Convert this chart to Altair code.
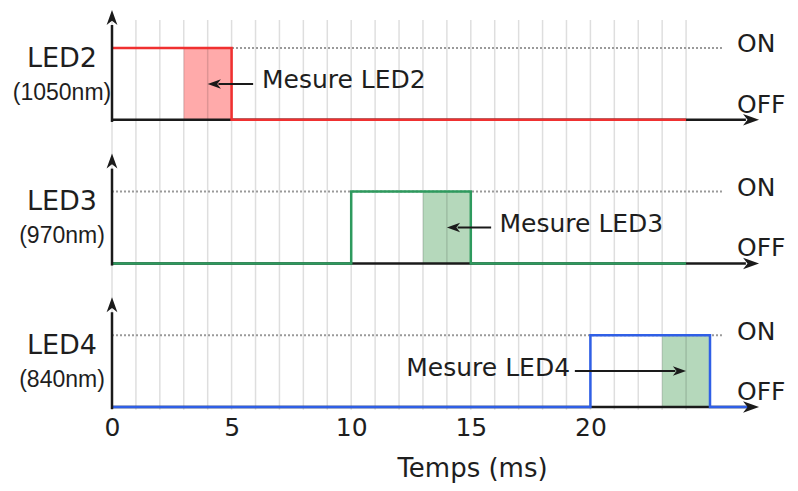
import altair as alt
import pandas as pd

# ---------------- data ----------------
leds = ["LED2", "LED3", "LED4"]
wavelengths = ["(1050nm)", "(970nm)", "(840nm)"]
pulse_start = [0, 10, 20]
pulse_end = [5, 15, 25]
measure_start = [3, 13, 23]
measure_end = [5, 15, 25]
trace_end = [24, 24, 26.6]
measure_labels = ["Mesure LED2", "Mesure LED3", "Mesure LED4"]
tick_values = [0, 5, 10, 15, 20]
grid_times = list(range(0, 25))
state_labels = ["ON", "OFF"]

# ---------------- styles / annotation layout ----------------
line_colors = ["#f03030", "#2e9a5e", "#2f5fe6"]
fill_colors = ["#ffaaaa", "#b5d8bb", "#b5d8bb"]
arrow_tail = [5.9, 15.85, 19.35]
label_x = [6.27, 16.2, 19.15]
label_align = ["left", "left", "right"]
panel_off = [4, 2, 0]          # OFF level of each panel (ON = OFF + 1)
FONT = "DejaVu Sans"
TXT = "#1e1e1e"
ARROW_PATH = "M0,0 L-0.36,1 L0,0.72 L0.36,1 Z"

# ---------------- build tables ----------------
sig_rows, rect_rows, grid_rows, on_rows, ax_h, ax_v = [], [], [], [], [], []
heads, marrows, led_txt, nm_txt, on_txt, off_txt, m_txt = [], [], [], [], [], [], []
for i, led in enumerate(leds):
    off = panel_off[i]
    on = off + 1
    pts = []
    if pulse_start[i] > 0:
        pts += [(0, off), (pulse_start[i], off)]
    pts += [(pulse_start[i], on), (pulse_end[i], on), (pulse_end[i], off), (trace_end[i], off)]
    for k, (t, y) in enumerate(pts):
        sig_rows.append({"led": led, "k": k, "t": t, "y": y})
    rect_rows.append({"t": measure_start[i], "t2": measure_end[i], "y": off, "y2": on,
                      "fill": fill_colors[i]})
    on_rows.append({"t": 0, "t2": 25.5, "y": on})
    ax_h.append({"t": 0, "t2": 26.5, "y": off})
    ax_v.append({"t": 0, "y": off - 0.03, "y2": off + 1.32})
    heads.append({"t": 27.05, "y": off, "angle": 90, "size": 1024})
    heads.append({"t": 0, "y": off + 1.53, "angle": 0, "size": 900})
    tip = (measure_start[i] + measure_end[i]) / 2
    mid = off + 0.5
    marrows.append({"t": arrow_tail[i], "t2": tip + (0.45 if tip < arrow_tail[i] else -0.45), "y": mid})
    heads.append({"t": tip, "y": mid, "angle": 270 if tip < arrow_tail[i] else 90, "size": 700})
    led_txt.append({"t": -2.09, "y": on - 0.15, "txt": led})
    nm_txt.append({"t": -2.09, "y": on - 0.62, "txt": wavelengths[i]})
    on_txt.append({"t": 26.13, "y": on + 0.05, "txt": state_labels[0]})
    off_txt.append({"t": 26.13, "y": off + 0.21, "txt": state_labels[1]})
    m_txt.append({"t": label_x[i], "y": mid + 0.05, "txt": measure_labels[i], "align": label_align[i]})
for t in grid_times:
    grid_rows.append({"t": t, "y": -0.04, "y2": 5.39})

xscale = alt.Scale(domain=[0, 25], nice=False, zero=False)
yscale = alt.Scale(domain=[0, 5], nice=False, zero=False)
xaxis = alt.Axis(values=tick_values, grid=False, domain=False, ticks=False, tickSize=0,
                 labelFont=FONT, labelFontSize=25, labelColor=TXT, labelPadding=8,
                 labelFlush=False, title="Temps (ms)", titleFont=FONT, titleFontSize=26,
                 titleFontWeight="normal", titleColor=TXT, titleX=360, titleY=69,
                 titleBaseline="alphabetic", titleAlign="center")


def X(f="t"):
    return alt.X(f"{f}:Q", scale=xscale, axis=xaxis)


def Y(f="y"):
    return alt.Y(f"{f}:Q", scale=yscale, axis=None)


rects = alt.Chart(pd.DataFrame(rect_rows)).mark_rect().encode(
    x=X(), x2="t2:Q", y=Y(), y2="y2:Q", fill=alt.Fill("fill:N", scale=None))

grid = alt.Chart(pd.DataFrame(grid_rows)).mark_rule(color="#000000", opacity=0.13, strokeWidth=1.5).encode(
    x=X(), y=Y(), y2="y2:Q")

onl = alt.Chart(pd.DataFrame(on_rows)).mark_rule(color="#9a9a9a", strokeWidth=2, strokeDash=[2, 2]).encode(
    x=X(), x2="t2:Q", y=Y())

axh = alt.Chart(pd.DataFrame(ax_h)).mark_rule(color="#1a1a1a", strokeWidth=2.5).encode(
    x=X(), x2="t2:Q", y=Y())

sig = alt.Chart(pd.DataFrame(sig_rows)).mark_line(strokeWidth=2.5, interpolate="linear").encode(
    x=X(), y=Y(), order=alt.Order("k:Q"),
    color=alt.Color("led:N", scale=alt.Scale(domain=leds, range=line_colors), legend=None))

axv = alt.Chart(pd.DataFrame(ax_v)).mark_rule(color="#1a1a1a", strokeWidth=2.5).encode(
    x=X(), y=Y(), y2="y2:Q")

mar = alt.Chart(pd.DataFrame(marrows)).mark_rule(color="#1a1a1a", strokeWidth=2).encode(
    x=X(), x2="t2:Q", y=Y())

hd = alt.Chart(pd.DataFrame(heads)).mark_point(shape=ARROW_PATH, filled=True, opacity=1,
                                                color="#1a1a1a", strokeWidth=0).encode(
    x=X(), y=Y(), angle=alt.Angle("angle:Q", scale=None), size=alt.Size("size:Q", scale=None))


def text_layer(rows, size, align, font=FONT, baseline="middle"):
    return alt.Chart(pd.DataFrame(rows)).mark_text(font=font, fontSize=size, align=align,
                                                   baseline=baseline, color=TXT).encode(
        x=X(), y=Y(), text="txt:N")


t_led = text_layer(led_txt, 27, "center")
t_nm = text_layer(nm_txt, 23, "center", font="Liberation Sans")
t_on = text_layer(on_txt, 25, "left")
t_off = text_layer(off_txt, 25, "left")
m_df = pd.DataFrame(m_txt)
t_m_left = text_layer(m_df[m_df["align"] == "left"].to_dict("records"), 25, "left")
t_m_right = text_layer(m_df[m_df["align"] == "right"].to_dict("records"), 25, "right")

chart = alt.layer(rects, grid, onl, axh, sig, axv, mar, hd,
                  t_led, t_nm, t_on, t_off, t_m_left, t_m_right).properties(
    width=598, height=359,
    padding={"left": 104, "top": 40, "right": 80, "bottom": 76},
    autosize=alt.AutoSizeParams(type="none"),
    background="white",
).configure_view(stroke=None)

chart.save("out.html", embed_options={"renderer": "svg", "actions": False})
